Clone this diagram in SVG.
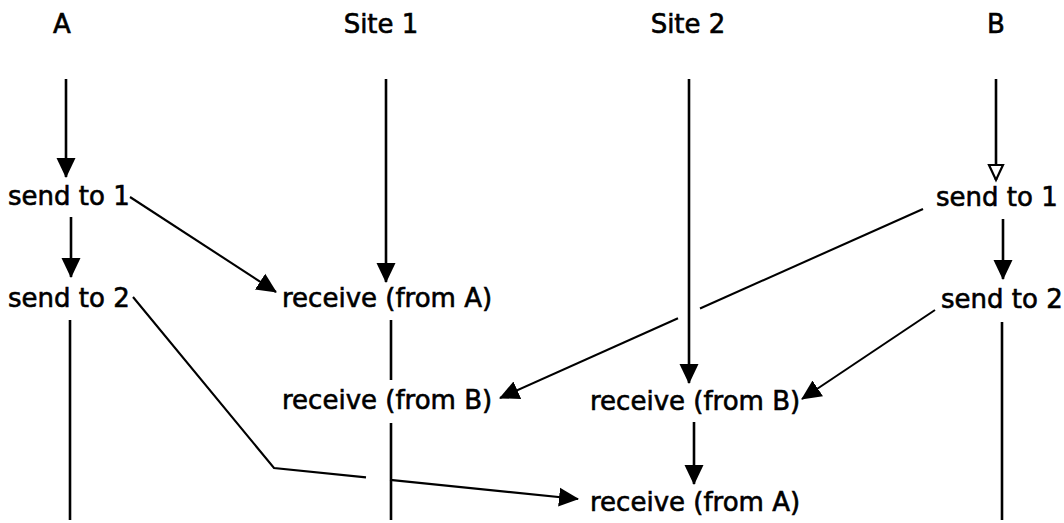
<svg xmlns="http://www.w3.org/2000/svg" width="1064" height="523" viewBox="0 0 1064 523">
<defs>
<style>
text{font-family:"DejaVu Sans","Liberation Sans",sans-serif;font-size:26px;fill:#000;stroke:#000;stroke-width:0.6}
.h{text-anchor:middle}
.l{stroke:#000;stroke-width:2.6;fill:none}
.d{stroke:#000;stroke-width:2.1;fill:none}
</style>
<marker id="ah" markerUnits="userSpaceOnUse" markerWidth="21" markerHeight="21" refX="19" refY="10.5" orient="auto" viewBox="0 0 21 21">
<path d="M0,1 L20,10.5 L0,20 z" fill="#000"/>
</marker>
<marker id="ao" markerUnits="userSpaceOnUse" markerWidth="20" markerHeight="20" refX="17" refY="10" orient="auto" viewBox="0 0 20 20">
<path d="M2,3 L17,10 L2,17 z" fill="#fff" stroke="#000" stroke-width="2.2"/>
</marker>
</defs>
<rect width="1064" height="523" fill="#fff"/>
<g id="headers">
<text class="h" x="62" y="33">A</text>
<text class="h" x="381" y="33">Site 1</text>
<text class="h" x="688" y="33">Site 2</text>
<text class="h" x="996" y="33">B</text>
</g>
<g id="A-send1"><text x="8" y="205">send to 1</text></g>
<g id="A-send2"><text x="8" y="307">send to 2</text></g>
<g id="S1-recvA"><text x="282" y="307">receive (from A)</text></g>
<g id="S1-recvB"><text x="282" y="409">receive (from B)</text></g>
<g id="S2-recvB"><text x="590" y="410">receive (from B)</text></g>
<g id="S2-recvA"><text x="590" y="511">receive (from A)</text></g>
<g id="B-send1"><text x="936" y="206">send to 1</text></g>
<g id="B-send2"><text x="941" y="308">send to 2</text></g>
<g id="connectors">
<line class="l" x1="66" y1="79" x2="66" y2="177" marker-end="url(#ah)"/>
<line class="l" x1="71" y1="217" x2="71" y2="277" marker-end="url(#ah)"/>
<line class="l" x1="70" y1="320" x2="70" y2="520"/>
<line class="l" x1="386" y1="79" x2="386" y2="282" marker-end="url(#ah)"/>
<line class="l" x1="391" y1="320" x2="391" y2="380"/>
<line class="l" x1="391" y1="423" x2="391" y2="520"/>
<line class="l" x1="689" y1="79" x2="689" y2="383" marker-end="url(#ah)"/>
<line class="l" x1="694" y1="422" x2="694" y2="484" marker-end="url(#ah)"/>
<line class="l" x1="996" y1="79" x2="996" y2="180" marker-end="url(#ao)"/>
<line class="l" x1="1003" y1="219" x2="1003" y2="279" marker-end="url(#ah)"/>
<line class="l" x1="1002" y1="322" x2="1002" y2="520"/>
<line class="d" x1="130" y1="197" x2="276" y2="292" marker-end="url(#ah)"/>
<polyline class="d" points="133,297 274,468 366,477.4"/>
<line class="d" x1="390" y1="479.9" x2="578" y2="499" marker-end="url(#ah)"/>
<line class="d" x1="923" y1="209" x2="700" y2="308.5"/>
<line class="d" x1="678" y1="318.3" x2="500" y2="398" marker-end="url(#ah)"/>
<line class="d" x1="935" y1="310" x2="802" y2="399" marker-end="url(#ah)"/>
</g>
</svg>
